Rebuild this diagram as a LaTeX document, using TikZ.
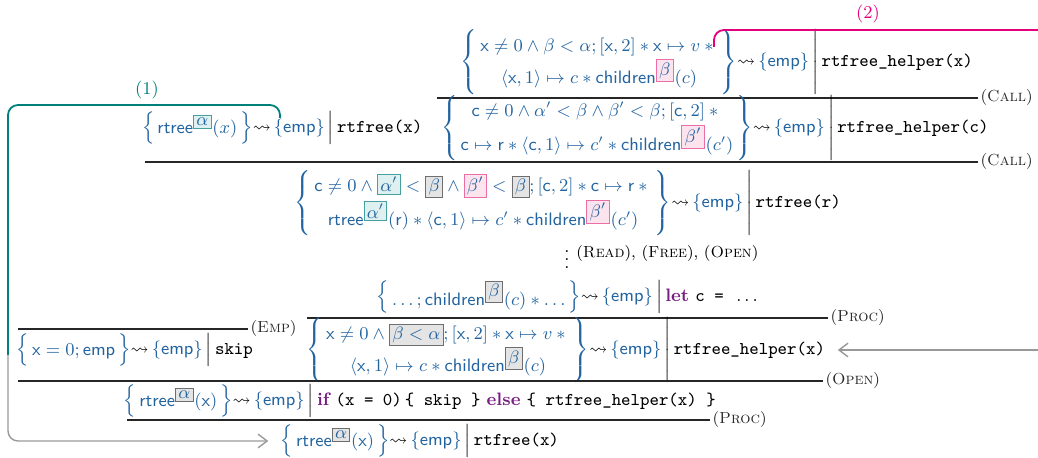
\documentclass[tikz,border=0pt]{standalone}
\usepackage{amsmath,amssymb}
\usepackage{fontspec}
\usetikzlibrary{arrows.meta, positioning}

\definecolor{specblue}{RGB}{35,100,160}
\definecolor{loopteal}{RGB}{0,128,122}
\definecolor{loopmagenta}{RGB}{228,0,124}
\definecolor{kwpurple}{RGB}{120,30,130}
\definecolor{tealedge}{RGB}{70,160,160}
\definecolor{tealfill}{RGB}{222,240,240}
\definecolor{pinkedge}{RGB}{235,110,165}
\definecolor{pinkfill}{RGB}{252,228,238}
\definecolor{grayedge}{RGB}{110,110,110}
\definecolor{grayfill}{RGB}{228,228,228}

\newcommand{\seqfont}{\fontsize{9}{11}\selectfont}
\newcommand{\tealbox}[1]{{\setlength{\fboxsep}{1.2pt}\fcolorbox{tealedge}{tealfill}{$#1$}}}
\newcommand{\pinkbox}[1]{{\setlength{\fboxsep}{1.2pt}\fcolorbox{pinkedge}{pinkfill}{$#1$}}}
\newcommand{\graybox}[1]{{\setlength{\fboxsep}{1.2pt}\fcolorbox{grayedge}{grayfill}{$#1$}}}
\newcommand{\kw}[1]{\textbf{\color{kwpurple}#1}}
% pre-condition in braces, post {emp}, then the program after the bar
\newcommand{\sequent}[2]{{\color{specblue}\left\{\begin{array}{@{\,}c@{\,}}#1\end{array}\right\}}{\leadsto}\,{\color{specblue}\{\mathsf{emp}\}}\left|\vphantom{\begin{array}{@{\,}c@{\,}}#1\end{array}}\,#2\right.}
\renewcommand{\arraystretch}{1.25}

\begin{document}
\begin{tikzpicture}[
    x=0.5pt, y=-0.5pt,
    seqnode/.style={inner sep=0pt, font=\seqfont},
    rulename/.style={inner sep=1pt, font=\fontsize{8}{10}\selectfont},
    infer/.style={line width=0.6pt, black!85},
    tealloop/.style={draw=loopteal, line width=0.9pt, rounded corners=5pt},
    pinkloop/.style={draw=loopmagenta, line width=0.9pt, rounded corners=5pt},
    grayloop/.style={draw=gray!80, line width=0.9pt, rounded corners=5pt},
    backarrow/.style={-{Straight Barb[length=1.6mm,width=2.4mm]}, gray!80, line width=0.7pt}
]
\useasboundingbox (0,0) rectangle (1038,458);

% first call
\node[seqnode] (helperx) at (718,62) {$\sequent{\mathsf{x}\neq 0\wedge\beta<\alpha;[\mathsf{x},2]*\mathsf{x}\mapsto v*{}\\ \langle\mathsf{x},1\rangle\mapsto c*\mathsf{children}^{\pinkbox{\beta}}(c)}{\texttt{rtfree\_helper(x)}}$};
\draw[infer] (437,98) -- (978,98) node[rulename, right] (callA) {(\textsc{Call})};

\node[seqnode] (helperc) at (716,128) {$\sequent{\mathsf{c}\neq 0\wedge\alpha'<\beta\wedge\beta'<\beta;[\mathsf{c},2]*{}\\ \mathsf{c}\mapsto\mathsf{r}*\langle\mathsf{c},1\rangle\mapsto c'*\mathsf{children}^{\pinkbox{\beta'}}(c')}{\texttt{rtfree\_helper(c)}}$};
\node[seqnode, anchor=east] (rtfreex) at (425,128) {$\sequent{\mathsf{rtree}^{\tealbox{\alpha}}(x)}{\texttt{rtfree(x)}}$};
\draw[infer] (145,162) -- (978,162) node[rulename, right] (callB) {(\textsc{Call})};

% second call
\node[seqnode] (rtfreer) at (569,203) {$\sequent{\mathsf{c}\neq 0\wedge\tealbox{\alpha'}<\graybox{\beta}\wedge\pinkbox{\beta'}<\graybox{\beta};[\mathsf{c},2]*\mathsf{c}\mapsto\mathsf{r}*{}\\ \mathsf{rtree}^{\tealbox{\alpha'}}(\mathsf{r})*\langle\mathsf{c},1\rangle\mapsto c'*\mathsf{children}^{\pinkbox{\beta'}}(c')}{\texttt{rtfree(r)}}$};
\node[seqnode] (dots) at (567,254) {$\vdots$};
\node[rulename, right=2pt of dots] (steps) {(\textsc{Read}), (\textsc{Free}), (\textsc{Open})};

% helper body
\node[seqnode] (letc) at (570,297) {$\sequent{\dots;\mathsf{children}^{\graybox{\beta}}(c)*\dots}{\kw{let}\ \texttt{c = }\dots}$};
\draw[infer] (307,318) -- (828,318) node[rulename, right] (procA) {(\textsc{Proc})};

\node[seqnode] (helperx2) at (567,350) {$\sequent{\mathsf{x}\neq 0\wedge\graybox{\beta<\alpha};[\mathsf{x},2]*\mathsf{x}\mapsto v*{}\\ \langle\mathsf{x},1\rangle\mapsto c*\mathsf{children}^{\graybox{\beta}}(c)}{\texttt{rtfree\_helper(x)}}$};
\draw[infer] (18,329) -- (248,329) node[rulename, right] (emp) {(\textsc{Emp})};
\node[seqnode] (skip) at (136,350) {$\sequent{\mathsf{x}=0;\mathsf{emp}}{\texttt{skip}}$};
\draw[infer] (18,381) -- (823,381) node[rulename, right] (open) {(\textsc{Open})};

\node[seqnode] (ifx) at (421,401) {$\sequent{\mathsf{rtree}^{\graybox{\alpha}}(\mathsf{x})}{\kw{if}\ \texttt{(x = 0)}\,\texttt{\{ skip \}}\ \kw{else}\ \texttt{\{ rtfree\_helper(x) \}}}$};
\draw[infer] (127,420) -- (710,420) node[rulename, right] (procB) {(\textsc{Proc})};

\node[seqnode] (root) at (421,441) {$\sequent{\mathsf{rtree}^{\graybox{\alpha}}(\mathsf{x})}{\texttt{rtfree(x)}}$};

% loop (1)
\coordinate (tealtop) at (280,118);
\coordinate (tealmid) at (8,355);
\node[seqnode, text=loopteal] (labone) at (147,90) {(1)};
\draw[tealloop] (tealtop) -- ++(0,-13) -| (tealmid);
\draw[grayloop, backarrow] (tealmid) |- ([xshift=-6pt]root.west);

% loop (2)
\coordinate (pinktop) at (714,47);
\coordinate (pinkend) at (1040,30);
\coordinate (grayin) at (1040,350);
\node[seqnode, text=loopmagenta] (labtwo) at (868,14) {(2)};
\draw[pinkloop] (pinktop) |- (pinkend);
\draw[backarrow] (grayin) -- ([xshift=5pt]helperx2.east);

\end{tikzpicture}
\end{document}
